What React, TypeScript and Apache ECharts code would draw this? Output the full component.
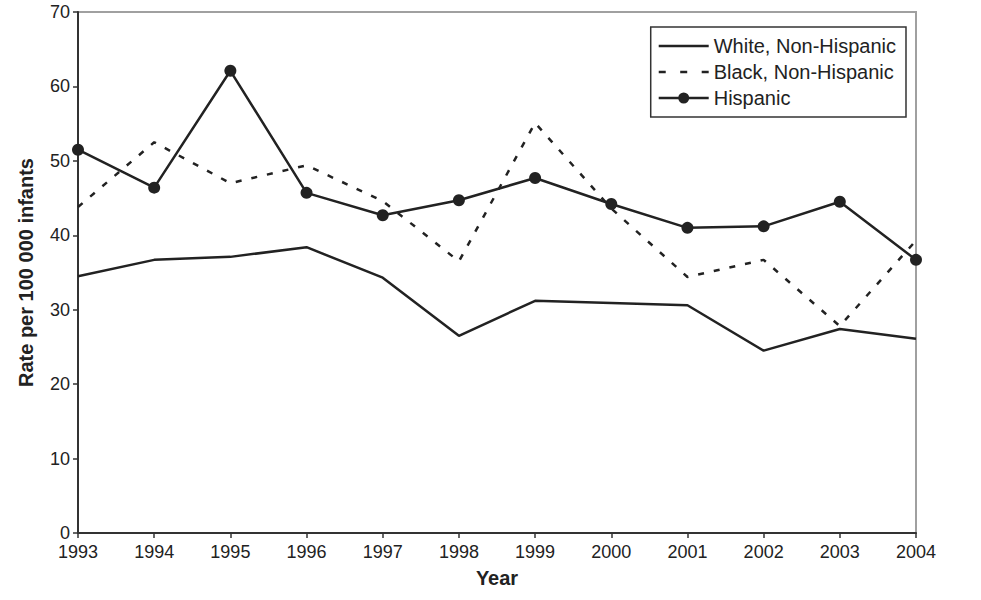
import React, { useEffect, useRef } from "react";
import * as echarts from "echarts";

const years = ["1993", "1994", "1995", "1996", "1997", "1998", "1999", "2000", "2001", "2002", "2003", "2004"];
const white = [34.5, 36.7, 37.1, 38.4, 34.3, 26.5, 31.2, 30.9, 30.6, 24.5, 27.4, 26.1];
const black = [43.8, 52.5, 47.0, 49.4, 44.6, 36.5, 55.1, 43.6, 34.4, 36.7, 27.8, 39.3];
const hispanic = [51.5, 46.4, 62.1, 45.7, 42.7, 44.7, 47.7, 44.2, 41.0, 41.2, 44.5, 36.7];

const FONT = "'Liberation Sans', Arial, sans-serif";

const ICON_SOLID = "path://M0,4.25H50V6.75H0Z";
const ICON_DASH = "path://M0,4.25H7V6.75H0Z M21.5,4.25H28.5V6.75H21.5Z M43,4.25H50V6.75H43Z M0,0H0.01V0.01H0Z M0,11H0.01V11.01H0Z";
const ICON_DOT = "path://M0,4.25H50V6.75H0Z M19.5,5.5a5.5,5.5 0 1,1 11,0a5.5,5.5 0 1,1 -11,0Z";

export default function App() {
  const ref = useRef<HTMLDivElement>(null);
  useEffect(() => {
    if (!ref.current) return;
    const chart = echarts.init(ref.current, undefined, { renderer: "svg" });
    chart.setOption({
      animation: false,
      backgroundColor: "#fff",
      textStyle: { fontFamily: FONT },
      grid: { left: 78, right: 65, top: 12, bottom: 67, show: true, borderColor: "#a0a0a0", borderWidth: 2, backgroundColor: "transparent" },
      legend: {
        orient: "vertical",
        right: 75,
        top: 27,
        padding: [9, 10, 9, 8],
        itemGap: 6,
        itemWidth: 50,
        itemHeight: 11,
        borderColor: "#333",
        borderWidth: 1.5,
        borderRadius: 0,
        textStyle: { fontSize: 20, lineHeight: 20, color: "#222", fontFamily: FONT },
        data: [
          { name: "White, Non-Hispanic", icon: ICON_SOLID },
          { name: "Black, Non-Hispanic", icon: ICON_DASH },
          { name: "Hispanic", icon: ICON_DOT },
        ],
      },
      xAxis: {
        type: "category",
        data: years,
        boundaryGap: false,
        name: "Year",
        nameLocation: "middle",
        nameGap: 35,
        nameTextStyle: { fontSize: 20, fontWeight: "bold", color: "#222", fontFamily: FONT },
        axisLine: { lineStyle: { color: "#333", width: 2 } },
        axisTick: { length: 5, lineStyle: { color: "#333", width: 1.5 } },
        axisLabel: { fontSize: 18, color: "#222", margin: 10, fontFamily: FONT },
        splitLine: { show: false },
      },
      yAxis: {
        type: "value",
        min: 0,
        max: 70,
        interval: 10,
        name: "Rate per 100 000 infants",
        nameLocation: "middle",
        nameGap: 42,
        nameTextStyle: { fontSize: 20, fontWeight: "bold", color: "#222", fontFamily: FONT },
        axisLine: { show: true, lineStyle: { color: "#333", width: 2 } },
        axisTick: { show: true, length: 5, lineStyle: { color: "#333", width: 1.5 } },
        axisLabel: { fontSize: 18, color: "#222", margin: 8, fontFamily: FONT },
        splitLine: { show: false },
      },
      series: [
        {
          name: "White, Non-Hispanic",
          type: "line",
          data: white,
          symbol: "none",
          lineStyle: { color: "#222", width: 2.5 },
          itemStyle: { color: "#222" },
        },
        {
          name: "Black, Non-Hispanic",
          type: "line",
          data: black,
          symbol: "none",
          lineStyle: { color: "#222", width: 2.5, type: [6, 10] },
          itemStyle: { color: "#222" },
        },
        {
          name: "Hispanic",
          type: "line",
          data: hispanic,
          symbol: "circle",
          symbolSize: 12,
          lineStyle: { color: "#222", width: 2.5 },
          itemStyle: { color: "#222" },
        },
      ],
    });
    return () => chart.dispose();
  }, []);
  return <div ref={ref} style={{ width: 981, height: 600, position: "absolute", left: 0, top: 0 }} />;
}
